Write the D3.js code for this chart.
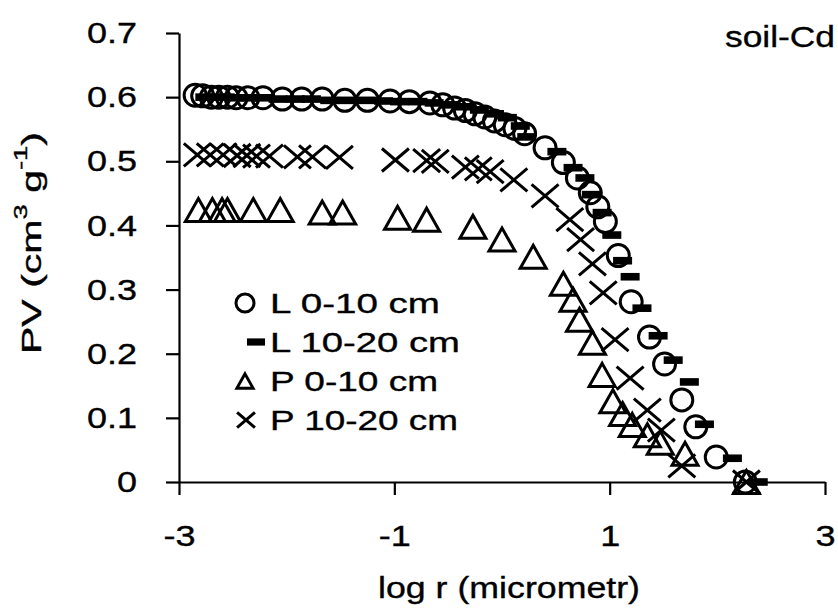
<!DOCTYPE html>
<html lang="en">
<head>
<meta charset="UTF-8">
<title>soil-Cd pore volume</title>
<script src="https://cdn.jsdelivr.net/npm/d3@7"></script>
<style>
  body { margin: 0; background: #fff; }
  svg text { font-family: Arial, "Liberation Sans", sans-serif; fill: #000; stroke: #000; stroke-width: 0.35px; }
</style>
</head>
<body>
<svg id="chart" width="838" height="610"></svg>
<script>
// tick values
const tickX = [-3, -1, 1, 3];
const tickY = [0, 0.1, 0.2, 0.3, 0.4, 0.5, 0.6, 0.7];

const seriesNames = ["L 0-10 cm", "L 10-20 cm", "P 0-10 cm", "P 10-20 cm"];

// L 0-10 cm (circles)
const logR_L010 = [-2.85, -2.78, -2.70, -2.63, -2.55, -2.47, -2.36, -2.22, -2.04, -1.86,
  -1.67, -1.46, -1.25, -1.04, -0.86, -0.67, -0.55, -0.44, -0.34, -0.25,
  -0.16, -0.07, 0.03, 0.12, 0.21, 0.40, 0.57, 0.70, 0.82, 0.89,
  0.96, 1.08, 1.20, 1.37, 1.51, 1.67, 1.80, 1.99, 2.26];
const pv_L010 = [0.603, 0.602, 0.600, 0.600, 0.600, 0.599, 0.599, 0.599, 0.597, 0.597,
  0.597, 0.595, 0.595, 0.594, 0.593, 0.591, 0.588, 0.583, 0.579, 0.574,
  0.569, 0.563, 0.557, 0.551, 0.543, 0.521, 0.498, 0.474, 0.451, 0.429,
  0.406, 0.353, 0.281, 0.226, 0.184, 0.128, 0.086, 0.039, 0.0];

// L 10-20 cm (dashes)
const logR_L1020 = [-2.76, -2.67, -2.57, -2.48, -2.36, -2.23, -2.08, -1.92, -1.77, -1.60,
  -1.43, -1.26, -1.10, -0.95, -0.78, -0.63, -0.48, -0.34, -0.21, -0.07,
  0.05, 0.17, 0.23, 0.51, 0.66, 0.77, 0.83, 0.93, 1.02, 1.12,
  1.19, 1.30, 1.45, 1.59, 1.74, 1.88, 2.14, 2.38];
const pv_L1020 = [0.600, 0.600, 0.600, 0.599, 0.599, 0.599, 0.597, 0.597, 0.597, 0.595,
  0.595, 0.595, 0.594, 0.593, 0.593, 0.591, 0.588, 0.585, 0.580, 0.574,
  0.568, 0.555, 0.538, 0.515, 0.490, 0.474, 0.448, 0.420, 0.385, 0.345,
  0.320, 0.271, 0.228, 0.190, 0.156, 0.090, 0.037, 0.0];

// P 0-10 cm (triangles)
const logR_P010 = [-2.82, -2.69, -2.60, -2.55, -2.31, -2.06, -1.67, -1.48, -0.97, -0.70,
  -0.27, 0.00, 0.29, 0.57, 0.66, 0.72, 0.84, 0.93, 1.03, 1.12,
  1.21, 1.35, 1.47, 1.70, 2.27];
const pv_P010 = [0.424, 0.424, 0.424, 0.424, 0.424, 0.424, 0.420, 0.420, 0.412, 0.409,
  0.398, 0.378, 0.351, 0.309, 0.284, 0.253, 0.217, 0.167, 0.126, 0.106,
  0.089, 0.073, 0.061, 0.044, 0.0];

// P 10-20 cm (crosses)
const logR_P1020 = [-2.83, -2.71, -2.59, -2.46, -2.37, -2.28, -2.16, -1.90, -1.76, -1.51,
  -0.99, -0.70, -0.62, -0.34, -0.22, -0.11, 0.11, 0.40, 0.63, 0.73,
  0.84, 0.94, 1.05, 1.19, 1.35, 1.48, 1.67, 2.27];
const pv_P1020 = [0.510, 0.510, 0.510, 0.509, 0.509, 0.508, 0.508, 0.507, 0.507, 0.506,
  0.502, 0.501, 0.500, 0.491, 0.488, 0.484, 0.471, 0.446, 0.409, 0.378,
  0.340, 0.295, 0.222, 0.162, 0.112, 0.081, 0.025, 0.0];

const width = 838, height = 610;
const margin = {top: 33, right: 13, bottom: 128, left: 179};
const stretch = 1.2;  // the text in the figure is drawn wide

const svg = d3.select("#chart");

const x = d3.scaleLinear().domain([-3, 3]).range([margin.left, width - margin.right]);
const y = d3.scaleLinear().domain([0, 0.7]).range([height - margin.bottom, margin.top]);

// axes
const gx = svg.append("g")
  .attr("transform", `translate(0,${y(0)})`)
  .call(d3.axisBottom(x).tickValues(tickX).tickSize(13).tickSizeOuter(0).tickPadding(30)
    .tickFormat(d => String(d)));

const gy = svg.append("g")
  .attr("transform", `translate(${x(-3)},0)`)
  .call(d3.axisLeft(y).tickValues(tickY).tickSize(13).tickSizeOuter(0)
    .tickFormat(d => d === 0 ? "0" : d.toFixed(1)));

[gx, gy].forEach(g => {
  g.attr("font-size", 30).attr("font-family", "Arial, 'Liberation Sans', sans-serif");
  g.select(".domain").attr("stroke", "#000").attr("stroke-width", 2.2);
  g.selectAll(".tick line").attr("stroke", "#000").attr("stroke-width", 2.2);
  g.selectAll(".tick text").attr("fill", "#000").attr("transform", `scale(${stretch},1)`);
});
gy.selectAll(".tick text").attr("x", -42 / stretch);

// axis titles
svg.append("text")
  .attr("x", 509).attr("y", 598)
  .attr("text-anchor", "middle")
  .attr("font-size", 30)
  .attr("textLength", 262).attr("lengthAdjust", "spacingAndGlyphs")
  .text("log r (micrometr)");

const yTitle = svg.append("text")
  .attr("transform", "translate(41,243) rotate(-90)")
  .attr("text-anchor", "middle")
  .attr("font-size", 27)
  .attr("textLength", 222).attr("lengthAdjust", "spacingAndGlyphs");
yTitle.append("tspan").text("PV (cm");
yTitle.append("tspan").attr("dy", -14).attr("font-size", 18).text("3");
yTitle.append("tspan").attr("dy", 14).text(" g");
yTitle.append("tspan").attr("dy", -14).attr("font-size", 18).text("-1");
yTitle.append("tspan").attr("dy", 14).text(")");

svg.append("text")
  .attr("x", 725).attr("y", 47)
  .attr("font-size", 30)
  .attr("textLength", 110).attr("lengthAdjust", "spacingAndGlyphs")
  .text("soil-Cd");

// marker drawing
const sw = 3;
function drawMarker(g, kind, s) {
  if (kind === "circle") {
    g.append("circle").attr("r", 11 * s).attr("fill", "none").attr("stroke", "#000").attr("stroke-width", sw);
  } else if (kind === "dash") {
    g.append("rect").attr("x", -9.5 * s).attr("y", -3.8 * s).attr("width", 19 * s).attr("height", 7.6 * s).attr("fill", "#000");
  } else if (kind === "triangle") {
    g.append("path").attr("d", `M0,${-11.5 * s}L${13 * s},${11.5 * s}L${-13 * s},${11.5 * s}Z`)
      .attr("fill", "none").attr("stroke", "#000").attr("stroke-width", sw);
  } else if (kind === "cross") {
    g.append("path").attr("d", `M${-13.5 * s},${-11.5 * s}L${13.5 * s},${11.5 * s}M${-13.5 * s},${11.5 * s}L${13.5 * s},${-11.5 * s}`)
      .attr("fill", "none").attr("stroke", "#000").attr("stroke-width", sw);
  }
}

const series = [
  {name: seriesNames[2], xs: logR_P010, ys: pv_P010, kind: "triangle"},
  {name: seriesNames[3], xs: logR_P1020, ys: pv_P1020, kind: "cross"},
  {name: seriesNames[0], xs: logR_L010, ys: pv_L010, kind: "circle"},
  {name: seriesNames[1], xs: logR_L1020, ys: pv_L1020, kind: "dash"}
];

series.forEach(sr => {
  const pts = sr.xs.map((v, i) => [v, sr.ys[i]]);
  svg.append("g").selectAll("g")
    .data(pts)
    .join("g")
    .attr("transform", d => `translate(${x(d[0])},${y(d[1])})`)
    .each(function() { drawMarker(d3.select(this), sr.kind, 1); });
});

// legend
const legendItems = [
  {name: seriesNames[0], kind: "circle", mx: 245, len: 170, s: 0.82},
  {name: seriesNames[1], kind: "dash", mx: 256, len: 190, s: 0.95},
  {name: seriesNames[2], kind: "triangle", mx: 245, len: 168, s: 0.62},
  {name: seriesNames[3], kind: "cross", mx: 246, len: 188, s: 0.66}
];
const legend = svg.append("g");
legendItems.forEach((it, i) => {
  const cy = 303 + i * 39;
  const m = legend.append("g").attr("transform", `translate(${it.mx},${cy})`);
  drawMarker(m, it.kind, it.s);
  legend.append("text")
    .attr("x", 270).attr("y", cy + 10)
    .attr("font-size", 28)
    .attr("textLength", it.len).attr("lengthAdjust", "spacingAndGlyphs")
    .text(it.name);
});
</script>
</body>
</html>
